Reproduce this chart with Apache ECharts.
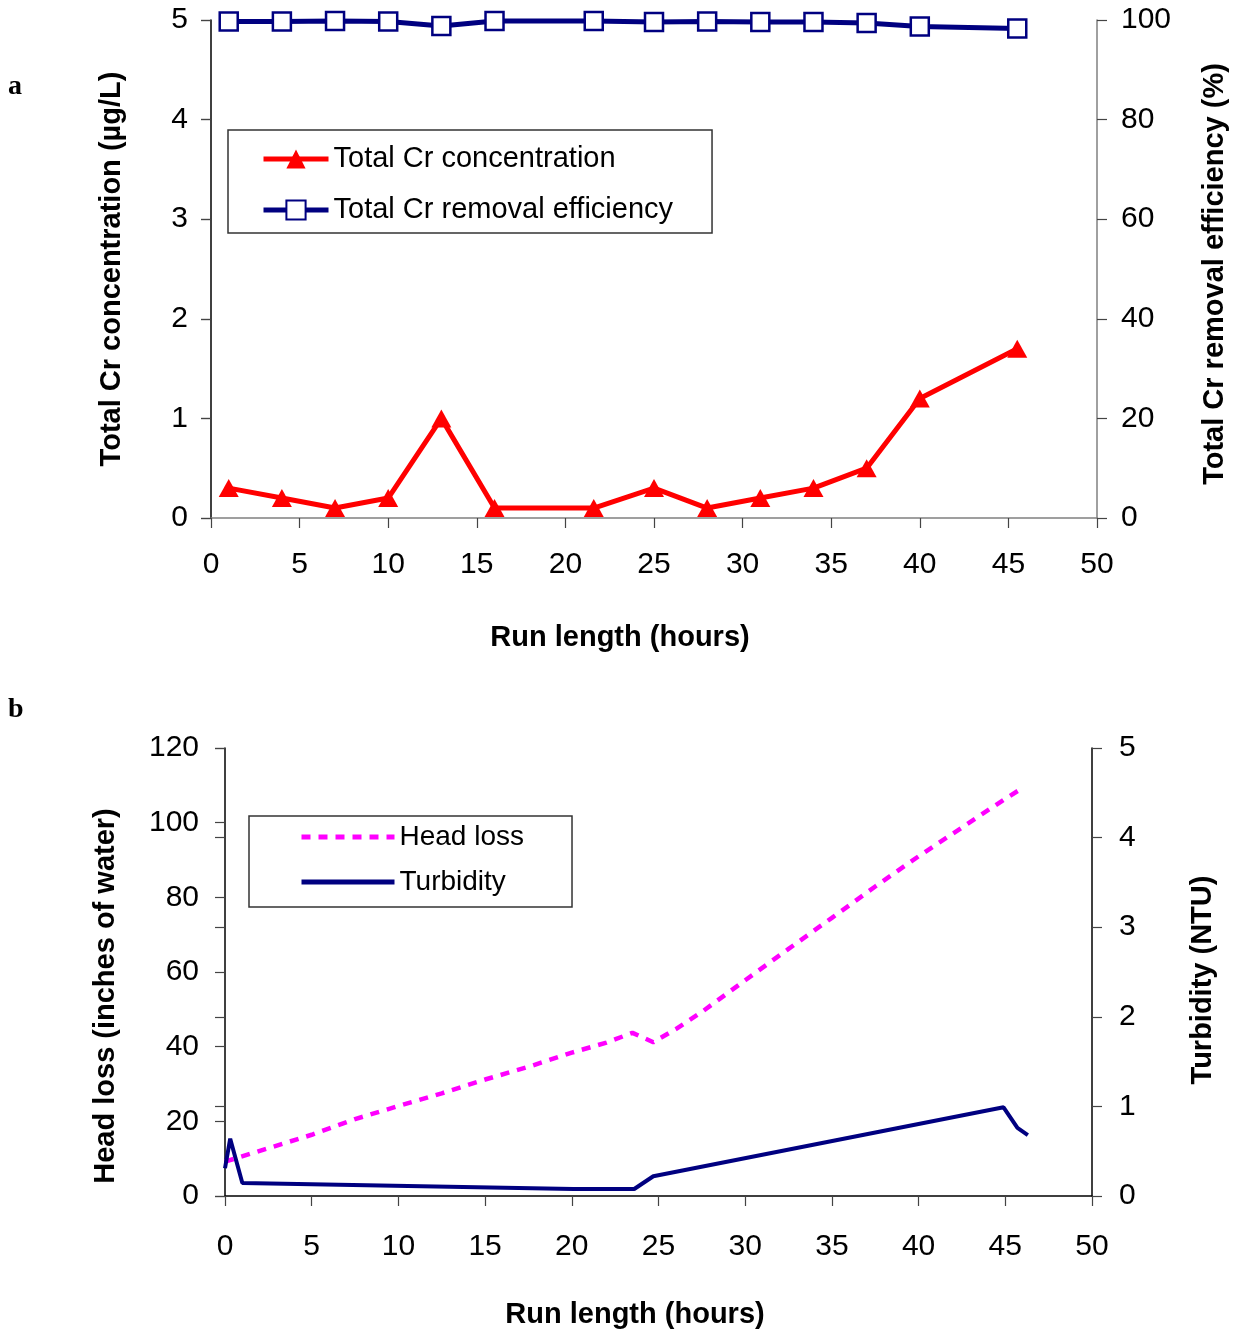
<!DOCTYPE html>
<html><head><meta charset="utf-8">
<script src="https://cdn.jsdelivr.net/npm/echarts@6/dist/echarts.min.js"></script>
<style>html,body{margin:0;padding:0;background:#fff}#c{width:1240px;height:1331px}</style>
</head><body><div id="c"></div>
<script>
// ---- Panel a data ----
const runHours = [1, 4, 7, 10, 13, 16, 21.6, 25, 28, 31, 34, 37, 40, 45.5];
const crConcentration = [0.3, 0.2, 0.1, 0.2, 1.0, 0.1, 0.1, 0.3, 0.1, 0.2, 0.3, 0.5, 1.2, 1.7];
const crRemoval = [99.7, 99.7, 99.8, 99.7, 98.8, 99.8, 99.8, 99.6, 99.7, 99.6, 99.6, 99.4, 98.7, 98.3];
// ---- Panel b data ----
const headHours = [0, 2.5, 5, 7.5, 10, 12.5, 15, 17.5, 20, 22, 23.5, 24.7, 26, 27.5, 30, 32.5, 35, 37.5, 40, 42.5, 45, 46.1];
const headLoss = [9.2, 12.8, 16.4, 20.6, 24.1, 27.5, 31.2, 34.6, 38.4, 41.1, 43.7, 41.2, 44.7, 49.3, 57.8, 66.2, 74.5, 82.9, 91.0, 98.7, 106.4, 109.6];
const turbHours = [0, 0.3, 0.4, 1.0, 20.1, 23.6, 24.7, 44.9, 45.7, 46.3];
const turbidity = [0.31, 0.64, 0.64, 0.145, 0.078, 0.078, 0.22, 0.99, 0.76, 0.68];

const F = 'Liberation Sans';
const pairs = (xs, ys) => xs.map((x, i) => [x, ys[i]]);

const chart = echarts.init(document.getElementById('c'), null, {renderer: 'canvas'});

function xAx(grid, gap, shift, lineColor, margin) {
  return {
    gridIndex: grid, type: 'value', min: 0, max: 50, interval: 5,
    name: 'Run length (hours)', nameLocation: 'middle', nameGap: gap,
    nameTextStyle: {fontFamily: F, fontSize: 29, fontWeight: 'bold', color: '#000', padding: [0, shift, 0, 0]},
    axisLine: {onZero: false, lineStyle: {color: lineColor, width: 1.5}},
    axisTick: {length: 10, lineStyle: {color: '#444', width: 1.2}},
    axisLabel: {margin: margin, fontFamily: F, fontSize: 30, color: '#000'},
    splitLine: {show: false}
  };
}
function yAx(grid, pos, min, max, interval, name, gap, shift, lineColor, margin) {
  return {
    gridIndex: grid, type: 'value', position: pos, min: min, max: max, interval: interval,
    name: name, nameLocation: 'middle', nameGap: gap,
    nameTextStyle: {fontFamily: F, fontSize: 29, fontWeight: 'bold', color: '#000', padding: [0, shift, 0, 0]},
    axisLine: {show: true, onZero: false, lineStyle: {color: lineColor, width: 1.5}},
    axisTick: {show: true, length: 10, lineStyle: {color: '#444', width: 1.2}},
    axisLabel: {margin: margin, fontFamily: F, fontSize: 30, color: '#000'},
    splitLine: {show: false}
  };
}
function crossAx(grid, min, max, interval) {
  return {
    gridIndex: grid, type: 'value', position: 'right', min: min, max: max, interval: interval,
    axisLine: {show: false}, axisLabel: {show: false}, splitLine: {show: false},
    axisTick: {show: true, inside: true, length: 10, lineStyle: {color: '#444', width: 1.2}}
  };
}

chart.setOption({
  animation: false,
  backgroundColor: '#fff',
  title: [
    {text: 'a', left: 8, top: 73, padding: 0, textStyle: {fontFamily: 'Liberation Serif', fontWeight: 'bold', fontSize: 28, color: '#000'}},
    {text: 'b', left: 8, top: 696, padding: 0, textStyle: {fontFamily: 'Liberation Serif', fontWeight: 'bold', fontSize: 28, color: '#000'}}
  ],
  grid: [
    {left: 211, top: 20, width: 886, height: 498, containLabel: false},
    {left: 225, top: 748, width: 867, height: 448, containLabel: false}
  ],
  legend: [
    {
      data: ['Total Cr concentration', 'Total Cr removal efficiency'],
      orient: 'vertical', left: 228, top: 130, padding: [14, 39, 8, 33],
      itemWidth: 65, itemHeight: 24, itemGap: 21, selectedMode: false,
      lineStyle: {width: 5},
      textStyle: {fontFamily: F, fontSize: 29, color: '#000', lineHeight: 30},
      borderColor: '#333', borderWidth: 1.5, borderRadius: 0, backgroundColor: '#fff'
    },
    {
      data: ['Head loss', 'Turbidity'],
      orient: 'vertical', left: 249, top: 816, padding: [6, 48, 10, 50],
      itemWidth: 93, itemHeight: 24, itemGap: 15, selectedMode: false,
      lineStyle: {width: 5},
      itemStyle: {opacity: 0, color: 'rgba(0,0,0,0)', borderWidth: 0},
      textStyle: {fontFamily: F, fontSize: 28, color: '#000', lineHeight: 30},
      borderColor: '#333', borderWidth: 1.5, borderRadius: 0, backgroundColor: '#fff'
    }
  ],
  xAxis: [
    xAx(0, 105, 68, '#808080', 32),
    xAx(1, 104, 47, '#000', 36)
  ],
  yAxis: [
    yAx(0, 'left', 0, 5, 1, 'Total Cr concentration (µg/L)', 85, 0, '#000', 23),
    yAx(0, 'right', 0, 100, 20, 'Total Cr removal efficiency (%)', 103, 10, '#808080', 24),
    crossAx(0, 0, 100, 20),
    yAx(1, 'left', 0, 120, 20, 'Head loss (inches of water)', 105, 48, '#000', 26),
    yAx(1, 'right', 0, 5, 1, 'Turbidity (NTU)', 96, 16, '#000', 27),
    crossAx(1, 0, 5, 1)
  ],
  series: [
    {
      name: 'Total Cr concentration', type: 'line', xAxisIndex: 0, yAxisIndex: 0,
      data: pairs(runHours, crConcentration),
      symbol: 'triangle', symbolSize: [20, 18],
      lineStyle: {color: '#FF0000', width: 5},
      itemStyle: {color: '#FF0000'}, z: 3
    },
    {
      name: 'Total Cr removal efficiency', type: 'line', xAxisIndex: 0, yAxisIndex: 1,
      data: pairs(runHours, crRemoval),
      symbol: 'rect', symbolSize: 18,
      lineStyle: {color: '#000080', width: 5},
      itemStyle: {color: '#fff', borderColor: '#000080', borderWidth: 2.5}, z: 3
    },
    {
      name: 'Head loss', type: 'line', xAxisIndex: 1, yAxisIndex: 3,
      data: pairs(headHours, headLoss), symbol: 'none',
      lineStyle: {color: '#FF00FF', width: 4.5, type: [9, 8]},
      itemStyle: {color: '#FF00FF'}
    },
    {
      name: 'Turbidity', type: 'line', xAxisIndex: 1, yAxisIndex: 4,
      data: pairs(turbHours, turbidity), symbol: 'none',
      lineStyle: {color: '#000080', width: 4},
      itemStyle: {color: '#000080'}
    }
  ]
});
</script>
</body></html>
